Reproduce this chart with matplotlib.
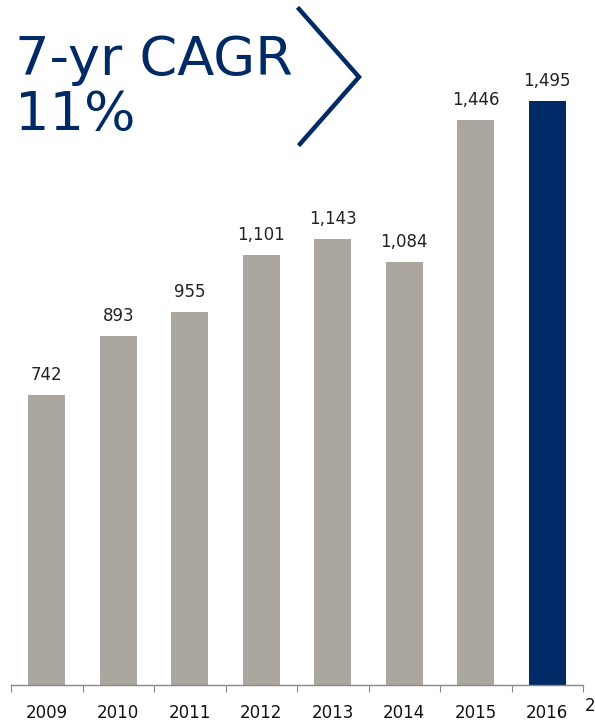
import numpy as np
import matplotlib.pyplot as plt

years = ["2009", "2010", "2011", "2012", "2013", "2014", "2015", "2016"]
values = [742, 893, 955, 1101, 1143, 1084, 1446, 1495]
labels = ["742", "893", "955", "1,101", "1,143", "1,084", "1,446", "1,495"]

GREY = "#aba69f"
NAVY = "#002a66"
colors = [GREY] * 7 + [NAVY]

W, H = 595, 724
fig = plt.figure(figsize=(W / 100, H / 100), dpi=100)
ax = fig.add_axes([11 / W, 39 / H, (583 - 11) / W, 685 / H])

x = np.arange(len(years))
ax.bar(x, values, width=0.52, color=colors)
ax.set_xlim(-0.5, 7.5)
ax.set_ylim(0, 1754)

for xi, v, lab in zip(x, values, labels):
    ax.annotate(lab, (xi, v), xytext=(0, 8), textcoords="offset points",
                ha="center", va="bottom", fontsize=12, color="#222222")

for s in ["top", "right", "left"]:
    ax.spines[s].set_visible(False)
ax.spines["bottom"].set_color("#888888")
ax.spines["bottom"].set_linewidth(1.0)
ax.set_yticks([])
ax.set_xticks(np.arange(-0.5, 8.0, 1.0), minor=False)
ax.set_xticklabels([])
ax.tick_params(axis="x", which="major", length=5, color="#888888", direction="out")
ax.set_xticks(x, minor=True)
ax.set_xticklabels(years, minor=True, fontsize=12, color="#111111")
ax.tick_params(axis="x", which="minor", length=0, pad=14)

# CAGR callout
tfont = dict(family="DejaVu Sans", fontsize=39, color=NAVY, ha="left", va="baseline")
fig.text(15 / W, 1 - 75 / H, "7-yr CAGR", **tfont)
fig.text(15 / W, 1 - 130 / H, "11%", **tfont)
fig.add_artist(plt.Line2D([299 / W, 359 / W, 300 / W],
                          [1 - 9 / H, 1 - 77 / H, 1 - 144 / H],
                          color=NAVY, lw=3.2, solid_joinstyle="miter"))

fig.text(585 / W, 1 - 706 / H, "2", fontsize=12, color="#111111", ha="left", va="center")

fig.savefig("out.png", dpi=100, facecolor="white")
